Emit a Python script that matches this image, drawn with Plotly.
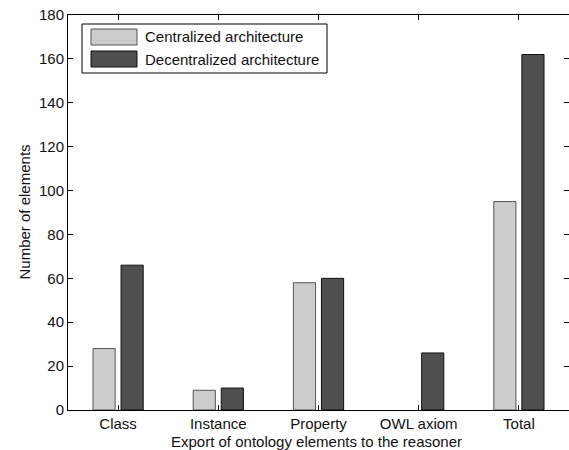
import plotly.graph_objects as go

categories = ["Class", "Instance", "Property", "OWL axiom", "Total"]
centralized = [28, 9, 58, 0, 95]
decentralized = [66, 10, 60, 26, 162]
series_names = ["Centralized architecture", "Decentralized architecture"]
y_ticks = [0, 20, 40, 60, 80, 100, 120, 140, 160, 180]

W, H = 569, 450
ML, MR, MT, MB = 68, 0, 15, 40
PW, PH = W - ML - MR, H - MT - MB

def px(x):
    return (x - ML) / PW

def py(y):
    return (H - MB - y) / PH

FONT = "Liberation Sans, Arial, Helvetica, sans-serif"
C_LIGHT = "#cccccc"
C_DARK = "#4f4f4f"
TXT = "#111111"

edge_light = [1 if v > 0 else 0 for v in centralized]
edge_dark = [1 if v > 0 else 0 for v in decentralized]

fig = go.Figure()
fig.add_trace(go.Bar(x=categories, y=centralized, name=series_names[0],
                     marker=dict(color=C_LIGHT, line=dict(color="#555555", width=edge_light)),
                     showlegend=False))
fig.add_trace(go.Bar(x=categories, y=decentralized, name=series_names[1],
                     marker=dict(color=C_DARK, line=dict(color="#111111", width=edge_dark)),
                     showlegend=False))

fig.update_layout(
    width=W, height=H,
    margin=dict(l=ML, r=MR, t=MT, b=MB, autoexpand=False),
    paper_bgcolor="white", plot_bgcolor="white",
    barmode="group", bargap=0.44, bargroupgap=0.21,
    font=dict(family=FONT, size=15, color=TXT),
    xaxis=dict(range=[-0.5, 4.5], showline=True, linecolor="black", linewidth=1,
               mirror="ticks", ticks="inside", ticklen=5, tickcolor="black",
               showgrid=False, zeroline=False, automargin=False,
               tickfont=dict(size=15, color=TXT)),
    yaxis=dict(range=[0, 180], tickvals=y_ticks, showline=True, linecolor="black",
               linewidth=1, mirror="ticks", ticks="inside", ticklen=5, tickcolor="black",
               showgrid=False, zeroline=False, automargin=False,
               tickfont=dict(size=15, color=TXT)),
)

# axis titles
fig.add_annotation(xref="paper", yref="paper", x=px(316), y=py(441),
                   text="Export of ontology elements to the reasoner", showarrow=False,
                   xanchor="center", yanchor="middle", font=dict(size=15, color=TXT))
fig.add_annotation(xref="paper", yref="paper", x=px(24), y=py(212.5),
                   text="Number of elements", showarrow=False, textangle=-90,
                   xanchor="center", yanchor="middle", font=dict(size=15, color=TXT))

# custom legend (box, swatches, labels)
fig.add_shape(type="rect", xref="paper", yref="paper",
              x0=px(82), x1=px(327), y0=py(24), y1=py(73),
              line=dict(color="black", width=1), fillcolor="white")
legend_rows = [(C_LIGHT, "#555555", 29, 45, series_names[0]),
               (C_DARK, "#111111", 51, 67, series_names[1])]
for fill, edge, top, bot, label in legend_rows:
    fig.add_shape(type="rect", xref="paper", yref="paper",
                  x0=px(91), x1=px(137), y0=py(top), y1=py(bot),
                  line=dict(color=edge, width=1), fillcolor=fill)
    fig.add_annotation(xref="paper", yref="paper", x=px(143), y=py((top + bot) / 2),
                       text=label, showarrow=False, xanchor="left", yanchor="middle",
                       font=dict(size=15, family=FONT, color=TXT))

fig.write_html("out.html", config={"displayModeBar": False},
               post_script="document.body.style.margin='0';document.body.style.overflow='hidden';")
